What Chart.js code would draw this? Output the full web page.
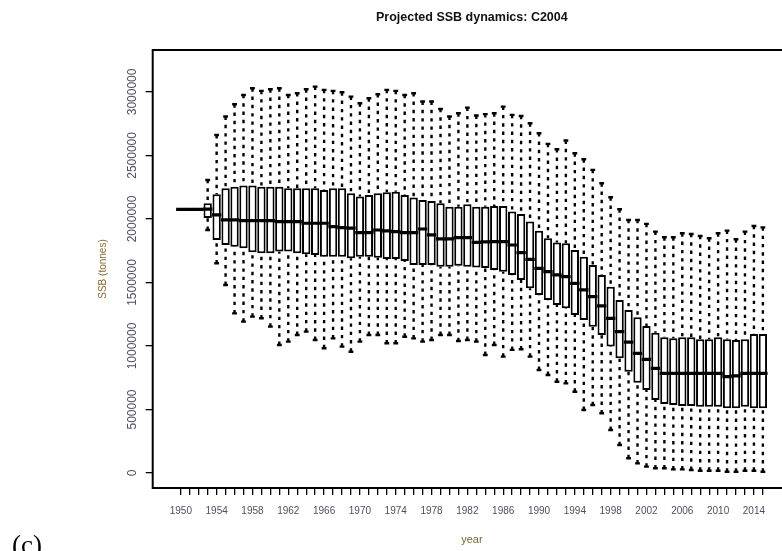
<!DOCTYPE html>
<html>
<head>
<meta charset="utf-8">
<script src="https://cdn.jsdelivr.net/npm/chart.js"></script>
<style>
  html, body { margin: 0; padding: 0; background: #fff; overflow: hidden; }
  #chart { display: block; }
</style>
</head>
<body>
<canvas id="chart" width="800" height="551"></canvas>
<script>
// projection years, one box per year
const years = [
  1950, 1951, 1952, 1953, 1954, 1955, 1956, 1957, 1958, 1959,
  1960, 1961, 1962, 1963, 1964, 1965, 1966, 1967, 1968, 1969,
  1970, 1971, 1972, 1973, 1974, 1975, 1976, 1977, 1978, 1979,
  1980, 1981, 1982, 1983, 1984, 1985, 1986, 1987, 1988, 1989,
  1990, 1991, 1992, 1993, 1994, 1995, 1996, 1997, 1998, 1999,
  2000, 2001, 2002, 2003, 2004, 2005, 2006, 2007, 2008, 2009,
  2010, 2011, 2012, 2013, 2014, 2015
];

const whiskerHigh = [
  2075000, 2075000, 2075000, 2307000, 2661000, 2806000, 2903000, 2976000, 3029000, 3008000,
  3021000, 3029000, 2976000, 2990000, 3021000, 3042000, 3016000, 3008000, 2997000, 2963000,
  2911000, 2950000, 2982000, 3016000, 3008000, 2976000, 2990000, 2924000, 2924000, 2866000,
  2806000, 2832000, 2876000, 2814000, 2825000, 2832000, 2884000, 2819000, 2811000, 2753000,
  2675000, 2591000, 2549000, 2617000, 2517000, 2470000, 2386000, 2281000, 2171000, 2076000,
  1992000, 1992000, 1961000, 1900000, 1856000, 1856000, 1887000, 1882000, 1866000, 1848000,
  1887000, 1908000, 1840000, 1900000, 1945000, 1934000
];

const upperQuartile = [
  2075000, 2075000, 2075000, 2124000, 2194000, 2242000, 2254000, 2263000, 2263000, 2254000,
  2254000, 2254000, 2242000, 2242000, 2242000, 2242000, 2228000, 2242000, 2242000, 2202000,
  2176000, 2189000, 2202000, 2210000, 2215000, 2189000, 2168000, 2150000, 2142000, 2123000,
  2097000, 2097000, 2116000, 2097000, 2097000, 2102000, 2102000, 2058000, 2039000, 1979000,
  1908000, 1848000, 1814000, 1808000, 1756000, 1703000, 1638000, 1559000, 1467000, 1362000,
  1283000, 1226000, 1157000, 1105000, 1068000, 1060000, 1068000, 1068000, 1052000, 1052000,
  1068000, 1052000, 1047000, 1052000, 1094000, 1094000
];

const median = [
  2075000, 2075000, 2075000, 2078000, 2032000, 1992000, 1992000, 1987000, 1987000, 1987000,
  1987000, 1979000, 1979000, 1979000, 1966000, 1966000, 1966000, 1940000, 1932000, 1927000,
  1892000, 1892000, 1913000, 1906000, 1900000, 1892000, 1892000, 1921000, 1874000, 1843000,
  1843000, 1853000, 1853000, 1816000, 1820000, 1822000, 1822000, 1795000, 1735000, 1682000,
  1611000, 1585000, 1559000, 1546000, 1493000, 1441000, 1388000, 1315000, 1218000, 1113000,
  1030000, 942000, 895000, 824000, 785000, 785000, 785000, 785000, 785000, 785000,
  785000, 758000, 764000, 785000, 785000, 785000
];

const lowerQuartile = [
  2075000, 2075000, 2075000, 2008000, 1835000, 1795000, 1782000, 1769000, 1738000, 1730000,
  1730000, 1743000, 1743000, 1730000, 1722000, 1717000, 1703000, 1703000, 1703000, 1690000,
  1703000, 1703000, 1695000, 1685000, 1685000, 1669000, 1638000, 1638000, 1638000, 1624000,
  1624000, 1632000, 1624000, 1617000, 1614000, 1598000, 1585000, 1559000, 1520000, 1454000,
  1402000, 1362000, 1323000, 1297000, 1244000, 1205000, 1152000, 1087000, 995000, 903000,
  798000, 711000, 654000, 575000, 543000, 535000, 528000, 528000, 522000, 522000,
  522000, 509000, 509000, 522000, 509000, 509000
];

const whiskerLow = [
  2075000, 2075000, 2075000, 1913000, 1651000, 1480000, 1257000, 1192000, 1231000, 1218000,
  1152000, 1008000, 1034000, 1087000, 1113000, 1047000, 982000, 1060000, 995000, 955000,
  1034000, 1087000, 1087000, 1021000, 1021000, 1073000, 1060000, 1034000, 1047000, 1087000,
  1087000, 1039000, 1047000, 1034000, 929000, 1008000, 916000, 969000, 974000, 916000,
  811000, 772000, 719000, 706000, 640000, 496000, 535000, 470000, 339000, 220000,
  116000, 76000, 50000, 37000, 37000, 29000, 29000, 24000, 18000, 18000,
  18000, 10000, 10000, 18000, 18000, 10000
];

const xTickLabels = ['1950', '1954', '1958', '1962', '1966', '1970', '1974', '1978',
  '1982', '1986', '1990', '1994', '1998', '2002', '2006', '2010', '2014'];
const yTicks = [0, 500000, 1000000, 1500000, 2000000, 2500000, 3000000];

// build the pieces of the boxplot from the arrays above
const boxes = years.map((yr, i) => ({ x: yr, y: [lowerQuartile[i], upperQuartile[i]] }));
const medians = years.map((yr, i) => ({ x: yr, y: median[i] }));

const whiskers = [];
const caps = [];
years.forEach((yr, i) => {
  if (whiskerHigh[i] === whiskerLow[i]) return;
  whiskers.push({ x: yr, y: whiskerHigh[i] }, { x: yr, y: upperQuartile[i] }, { x: yr, y: null });
  whiskers.push({ x: yr, y: whiskerLow[i] }, { x: yr, y: lowerQuartile[i] }, { x: yr, y: null });
  caps.push({ x: yr, y: whiskerHigh[i] }, { x: yr, y: whiskerLow[i] });
});

// R style frame round the plot region, plus the panel letter
const framePlugin = {
  id: 'frame',
  afterDatasetsDraw(chart) {
    const { ctx, chartArea: a } = chart;
    ctx.save();
    ctx.strokeStyle = '#000';
    ctx.lineWidth = 2;
    ctx.strokeRect(a.left, a.top, a.right - a.left, a.bottom - a.top);
    ctx.restore();
  },
  afterDraw(chart) {
    const ctx = chart.ctx;
    ctx.save();
    ctx.fillStyle = '#000';
    ctx.font = '27px "Liberation Serif", serif';
    ctx.textBaseline = 'alphabetic';
    ctx.fillText('(c)', 12, 554);
    ctx.restore();
  }
};

const ctx = document.getElementById('chart').getContext('2d');

new Chart(ctx, {
  type: 'bar',
  data: {
    datasets: [
      {
        type: 'line',
        data: medians,
        showLine: false,
        pointStyle: 'line',
        pointRadius: 4.7,
        pointBorderWidth: 3.2,
        pointBorderColor: '#000',
        order: 0
      },
      {
        type: 'line',
        data: caps,
        showLine: false,
        pointStyle: 'line',
        pointRadius: 2.4,
        pointBorderWidth: 2.4,
        pointBorderColor: '#000',
        order: 1
      },
      {
        data: boxes,
        backgroundColor: '#fff',
        borderColor: '#000',
        borderWidth: 2,
        borderSkipped: false,
        barPercentage: 1,
        categoryPercentage: 0.93,
        order: 2
      },
      {
        type: 'line',
        data: whiskers,
        borderColor: '#000',
        borderWidth: 2.4,
        borderDash: [3.4, 4.9],
        pointRadius: 0,
        spanGaps: false,
        order: 3
      }
    ]
  },
  options: {
    responsive: false,
    devicePixelRatio: 1,
    animation: false,
    events: [],
    layout: { padding: { left: 0, right: 9, top: 0, bottom: 0 } },
    plugins: {
      legend: { display: false },
      tooltip: { enabled: false },
      title: {
        display: true,
        fullSize: false,
        text: 'Projected SSB dynamics: C2004',
        color: '#111',
        font: { family: '"Liberation Sans", Arial, sans-serif', size: 12.5, weight: 'bold' },
        padding: { top: 10.5, bottom: 24.5 }
      }
    },
    scales: {
      x: {
        type: 'linear',
        offset: false,
        min: 1946.86,
        max: 2018.14,
        afterBuildTicks: (scale) => { scale.ticks = years.map(v => ({ value: v })); },
        afterFit: (scale) => { scale.height = 63; },
        border: { display: false },
        grid: {
          offset: false,
          drawOnChartArea: false,
          drawTicks: true,
          tickLength: 7,
          color: '#000',
          lineWidth: 1.3
        },
        ticks: {
          autoSkip: false,
          maxRotation: 0,
          padding: 10.7,
          color: '#4d5060',
          font: { family: '"Liberation Sans", Arial, sans-serif', size: 10 },
          callback: (v) => xTickLabels.includes(String(v)) ? String(v) : ''
        },
        title: {
          display: true,
          text: 'year',
          color: '#7a6636',
          font: { family: '"Liberation Sans", Arial, sans-serif', size: 11 },
          padding: { top: 0, bottom: 4.4 }
        }
      },
      y: {
        min: -118000,
        max: 3330000,
        afterBuildTicks: (scale) => { scale.ticks = yTicks.map(v => ({ value: v })); },
        afterFit: (scale) => { scale.width = 152.7; },
        border: { display: false },
        grid: {
          drawOnChartArea: false,
          drawTicks: true,
          tickLength: 7,
          color: '#000',
          lineWidth: 1.3
        },
        ticks: {
          minRotation: 90,
          maxRotation: 90,
          crossAlign: 'center',
          padding: -10,
          color: '#4d5060',
          font: { family: '"Liberation Sans", Arial, sans-serif', size: 12 },
          callback: (v) => String(v)
        },
        title: {
          display: true,
          text: 'SSB (tonnes)',
          color: '#8a6a35',
          font: { family: '"Liberation Sans", Arial, sans-serif', size: 10 },
          padding: { top: 97.3, bottom: 0 }
        }
      }
    }
  },
  plugins: [framePlugin]
});
</script>
</body>
</html>
